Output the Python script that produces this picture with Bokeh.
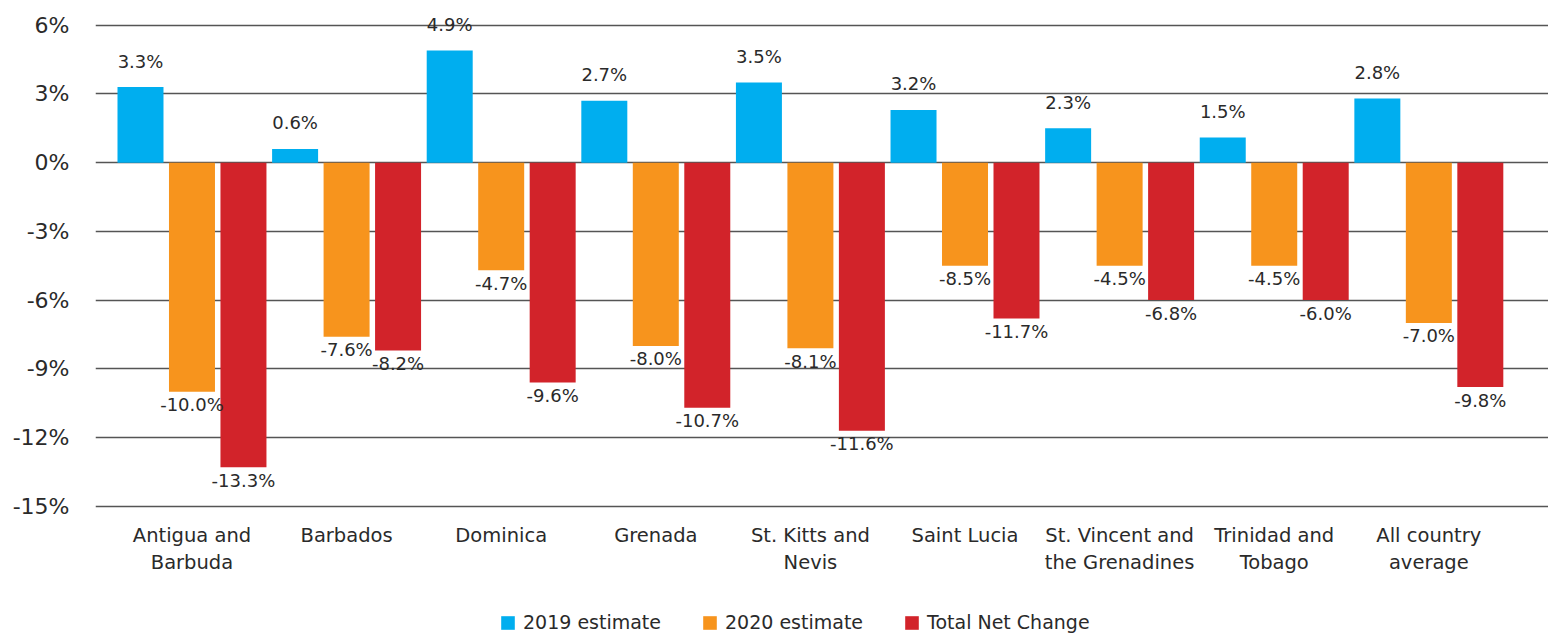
from bokeh.plotting import figure
from bokeh.models import Range1d, FixedTicker, Legend, LegendItem, ColumnDataSource
from bokeh.core.properties import value
from bokeh.transform import dodge
from bokeh.layouts import column
from bokeh.embed import file_html
from bokeh.resources import INLINE

categories = ["Antigua and\nBarbuda", "Barbados", "Dominica", "Grenada", "St. Kitts and\nNevis",
              "Saint Lucia", "St. Vincent and\nthe Grenadines", "Trinidad and\nTobago", "All country\naverage"]
est_2019 = [3.3, 0.6, 4.9, 2.7, 3.5, 2.3, 1.5, 1.1, 2.8]
est_2020 = [-10.0, -7.6, -4.7, -8.0, -8.1, -4.5, -4.5, -4.5, -7.0]
net_change = [-13.3, -8.2, -9.6, -10.7, -11.7, -6.8, -6.0, -6.0, -9.8]
labels_2019 = ["3.3%", "0.6%", "4.9%", "2.7%", "3.5%", "3.2%", "2.3%", "1.5%", "2.8%"]
labels_2020 = ["-10.0%", "-7.6%", "-4.7%", "-8.0%", "-8.1%", "-8.5%", "-4.5%", "-4.5%", "-7.0%"]
labels_net = ["-13.3%", "-8.2%", "-9.6%", "-10.7%", "-11.6%", "-11.7%", "-6.8%", "-6.0%", "-9.8%"]
series_names = ["2019 estimate", "2020 estimate", "Total Net Change"]
y_ticks = [-15, -12, -9, -6, -3, 0, 3, 6]

FONT = "DejaVu Sans"
TXT = "#2a2a2a"
colors = ["#00AEEF", "#F7941D", "#D2232A"]

idx = list(range(len(categories)))
src = ColumnDataSource(dict(x=idx, a=est_2019, b=est_2020, c=net_change,
                            la=labels_2019, lb=labels_2020, lc=labels_net))

p = figure(width=1548, height=600, output_backend="svg", toolbar_location=None,
           x_range=Range1d(-0.624, 8.774), y_range=Range1d(-15.1, 7.08),
           min_border_left=95, min_border_right=0, min_border_top=0, min_border_bottom=92)
p.outline_line_color = None
p.background_fill_color = "white"
p.border_fill_color = "white"

w = 0.2975
off = 0.333
r1 = p.vbar(x=dodge("x", -off, range=p.x_range), top="a", bottom=0, width=w, source=src,
            fill_color=colors[0], line_color=None)
r2 = p.vbar(x=dodge("x", 0, range=p.x_range), top="b", bottom=0, width=w, source=src,
            fill_color=colors[1], line_color=None)
r3 = p.vbar(x=dodge("x", off, range=p.x_range), top="c", bottom=0, width=w, source=src,
            fill_color=colors[2], line_color=None)

common = dict(source=src, text_align="center", text_baseline="middle",
              text_font=value(FONT), text_font_size="18px", text_color=TXT)
p.text(x=dodge("x", -off, range=p.x_range), y="a", text="la", y_offset=-26, **common)
p.text(x=dodge("x", 0, range=p.x_range), y="b", text="lb", y_offset=13, **common)
p.text(x=dodge("x", off, range=p.x_range), y="c", text="lc", y_offset=13, **common)

# axes
p.yaxis.ticker = FixedTicker(ticks=y_ticks)
p.yaxis.major_label_overrides = {t: f"{t}%" for t in y_ticks}
p.yaxis.axis_line_color = None
p.yaxis.major_tick_line_color = None
p.yaxis.minor_tick_line_color = None
p.yaxis.major_label_text_font = FONT
p.yaxis.major_label_text_font_size = "22px"
p.yaxis.major_label_text_color = TXT
p.yaxis.major_label_standoff = 20

p.xaxis.ticker = FixedTicker(ticks=idx)
p.xaxis.major_label_overrides = {i: c for i, c in zip(idx, categories)}
p.xaxis.axis_line_color = None
p.xaxis.major_tick_line_color = None
p.xaxis.minor_tick_line_color = None
p.xaxis.major_label_text_font = FONT
p.xaxis.major_label_text_font_size = "19.5px"
p.xaxis.major_label_text_color = TXT
p.xaxis.major_label_standoff = 9

p.xgrid.grid_line_color = None
p.ygrid.ticker = FixedTicker(ticks=y_ticks)
p.ygrid.grid_line_color = "#555555"
p.ygrid.grid_line_width = 1.6
p.ygrid.level = "underlay"

# legend strip below the chart
lg = figure(width=1548, height=34, output_backend="svg", toolbar_location=None,
            x_range=Range1d(0, 1), y_range=Range1d(0, 1),
            x_axis_type=None, y_axis_type=None,
            min_border_left=0, min_border_right=0, min_border_top=0, min_border_bottom=0)
lg.outline_line_color = None
lg.grid.visible = False
# zero-height placeholder bars, only used to give the legend its swatches
lr = [lg.vbar(x=[0.5], top=[0], bottom=0, width=0.01, fill_color=c, line_color=None) for c in colors]
legend = Legend(items=[LegendItem(label=n, renderers=[r]) for n, r in zip(series_names, lr)],
                orientation="horizontal", location=(404, 1),
                glyph_width=17, glyph_height=17, label_standoff=7, spacing=40,
                padding=0, margin=0, border_line_color=None, background_fill_alpha=0,
                label_text_font=FONT, label_text_font_size="19px", label_text_color=TXT,
                label_height=17)
lg.add_layout(legend, "center")

layout = column(p, lg, spacing=0)
open("out.html", "w").write(file_html(layout, INLINE))
